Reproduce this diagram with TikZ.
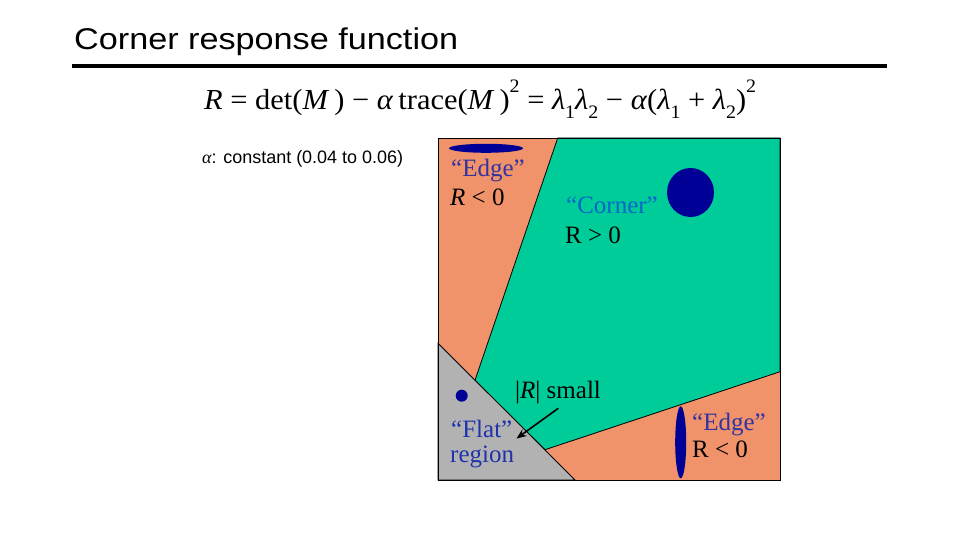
\documentclass[tikz,border=0pt]{standalone}
\usepackage{fontspec}
\usepackage{graphicx}
\setmainfont{Liberation Serif}
\newfontfamily\arialf{Liberation Sans}
\usetikzlibrary{arrows.meta}
\definecolor{tealc}{RGB}{0,204,153}
\definecolor{orngc}{RGB}{240,146,106}
\definecolor{gryc}{RGB}{178,178,178}
\definecolor{navyc}{RGB}{0,0,150}
\definecolor{edgec}{RGB}{51,51,160}
\definecolor{cornc}{RGB}{0,102,204}
\definecolor{flatc}{RGB}{30,50,170}
\newcommand\hstretch[2]{\resizebox{#1}{\height}{#2}}
\newcommand\eqsub[1]{\raisebox{-0.28em}{\fontsize{19}{19}\selectfont #1}}
\newcommand\eqsup[1]{\raisebox{0.6em}{\fontsize{19}{19}\selectfont #1}}
\tikzset{
  lbl/.style={anchor=base west, inner sep=0pt, font=\fontsize{25}{30}\selectfont},
  regline/.style={draw=black, line width=0.8pt},
  blob/.style={fill=navyc}
}
\begin{document}
\begin{tikzpicture}[x=1pt,y=-1pt]
\useasboundingbox (0,0) rectangle (960,540);
\fill[white] (0,0) rectangle (960,540);
% title
\node[anchor=base west, inner sep=0pt, font=\arialf\fontsize{30}{36}\selectfont] (title) at (74,50) {\hstretch{384pt}{Corner response function}};
\fill[black] (72,64.5) rectangle (887,68.5);
% equation
\node[anchor=base west, inner sep=0pt, font=\fontsize{29}{34}\selectfont] (eq) at (204,110)
  {\hstretch{552pt}{\textit{R} = det(\textit{M}\,) − \textit{α}\,trace(\textit{M}\,)\eqsup{2} = \textit{λ}\eqsub{1}\textit{λ}\eqsub{2} − \textit{α}(\textit{λ}\eqsub{1} + \textit{λ}\eqsub{2})\eqsup{2}}};
% alpha line
\node[anchor=base west, inner sep=0pt, font=\arialf\fontsize{18}{21}\selectfont] (alpha) at (202,164)
  {\hstretch{201pt}{{\rmfamily\itshape α}: constant (0.04 to 0.06)}};
% regions
\fill[orngc] (438,138) rectangle (780,480);
\filldraw[fill=tealc, regline] (557.7,138) -- (780,138) -- (780,371.7) -- (545,449.7) -- (475,380.3) -- cycle;
\filldraw[fill=gryc, regline] (438,343.3) -- (575,480) -- (438,480) -- cycle;
\draw[line width=0.8pt] (438,138) rectangle (780,480);
% ellipses
\fill[blob] (486,148.3) ellipse [x radius=37pt, y radius=4.5pt];
\fill[blob] (690.5,192.5) ellipse [x radius=23.5pt, y radius=24.5pt];
\fill[blob] (461.7,395.7) circle [radius=6pt];
\fill[blob] (680.7,442.3) ellipse [x radius=5.5pt, y radius=36pt];
% labels
\node[lbl, text=edgec] (edge1) at (451,177) {“Edge”};
\node[lbl] (r1) at (450,205) {\textit{R} < 0};
\node[lbl, text=cornc] (corner) at (566,213) {“Corner”};
\node[lbl] (r2) at (565,243) {R > 0};
\node[lbl] (small) at (515,398) {|\textit{R}| small};
\node[lbl, text=flatc] (flat) at (451,437) {“Flat”};
\node[lbl, text=flatc] (region) at (450,462) {region};
\node[lbl, text=edgec] (edge2) at (692,430) {“Edge”};
\node[lbl] (r3) at (692,457) {R < 0};
% arrow
\coordinate (as) at (558.3,408.3);
\coordinate (ae) at (516.5,438.5);
\draw[line width=1.6pt, -{Stealth[length=10pt,width=8pt]}] (as) -- (ae);
\end{tikzpicture}
\end{document}
